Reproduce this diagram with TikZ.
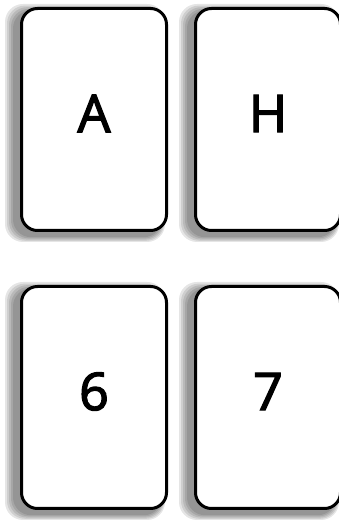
\documentclass[tikz,border=0pt]{standalone}
\usepackage{fontspec}
\setmainfont{Open Sans}[FakeBold=2.5]
\begin{document}
\begin{tikzpicture}[x=1pt,y=1pt,
  card/.style={draw=black, line width=3pt, fill=white, rounded corners=16pt},
  shade/.style={fill=black, opacity=0.1, rounded corners=18pt},
  lbl/.style={font=\fontsize{52}{52}\selectfont}]
\useasboundingbox (0,0) rectangle (339,522);
\def\cardat#1#2#3#4{%
  \foreach \d in {0,2,4,6,8}{
    \fill[shade] (#1-15+\d,#2-10+\d*0.6) rectangle (#1+145-\d*0.4,#2+222+6-\d*0.8);
  }
  \node[card, minimum width=145pt, minimum height=222pt, anchor=south west, inner sep=0pt] (#3) at (#1,#2) {};
  \node[lbl] (#3t) at ([yshift=6pt]#3.center) {#4};
}
\cardat{20}{290}{a}{A}
\cardat{194}{290}{h}{H}
\cardat{20}{12}{six}{6}
\cardat{194}{12}{seven}{7}
\end{tikzpicture}
\end{document}
